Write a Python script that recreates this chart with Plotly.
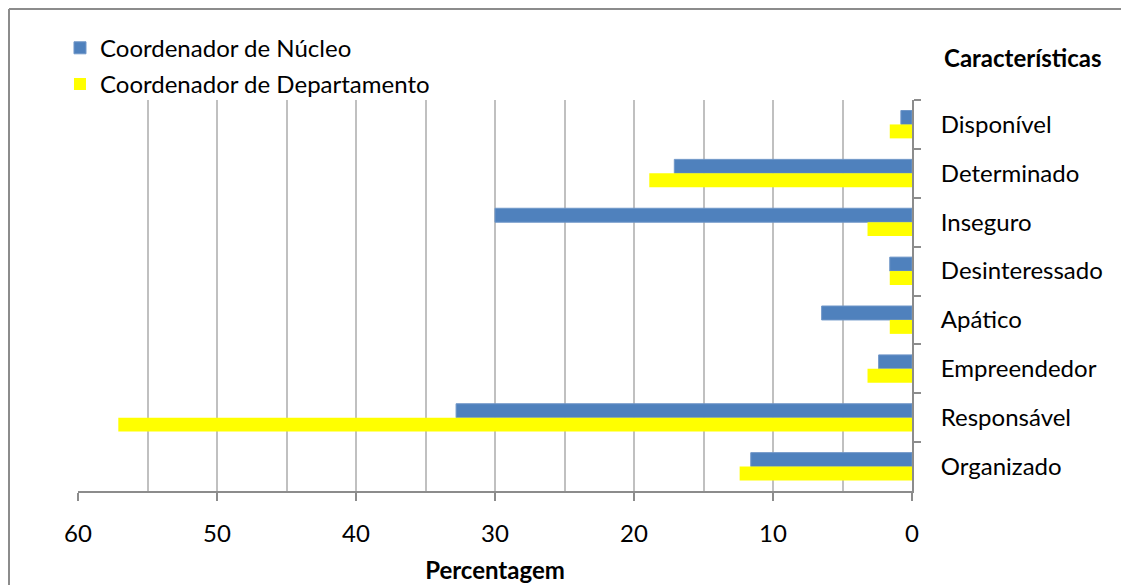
import plotly.graph_objects as go

categories = ["Disponível", "Determinado", "Inseguro", "Desinteressado",
              "Apático", "Empreendedor", "Responsável", "Organizado"]
nucleo = [0.8, 17.1, 30.0, 1.6, 6.5, 2.4, 32.8, 11.6]
departamento = [1.6, 18.9, 3.2, 1.6, 1.6, 3.2, 57.1, 12.4]
series_names = ["Coordenador de Núcleo", "Coordenador de Departamento"]
x_ticks = [0, 10, 20, 30, 40, 50, 60]

FONT = "Lato"
FS = 24
fig = go.Figure()
fig.add_trace(go.Bar(y=categories, x=nucleo, orientation="h", name=series_names[0],
                     marker=dict(color="#4F81BD", line=dict(color="#6f96c8", width=1)),
                     legendgroup="a"))
fig.add_trace(go.Bar(y=categories, x=departamento, orientation="h", name=series_names[1],
                     marker=dict(color="#FFFF00", line=dict(width=0)),
                     legendgroup="b"))

# page has an 8px body margin, so offsets are shifted accordingly
fig.update_layout(
    width=1129, height=585,
    margin=dict(l=70, r=225, t=92, b=102),
    paper_bgcolor="white", plot_bgcolor="white",
    barmode="group", bargap=0.43, bargroupgap=0,
    font=dict(family=FONT, size=FS, color="black"),
    legend=dict(x=-0.0216, y=1.19, xanchor="left", yanchor="top",
                traceorder="grouped", tracegroupgap=2,
                font=dict(size=FS), bgcolor="rgba(0,0,0,0)"),
    xaxis=dict(range=[60, 0], tickvals=x_ticks, showgrid=True, gridcolor="#c0c0c0", gridwidth=2,
               minor=dict(dtick=5, showgrid=True, gridcolor="#c0c0c0", gridwidth=2, ticks=""),
               showline=True, linecolor="#8c8c8c", linewidth=2,
               ticks="outside", ticklen=8, tickcolor="#8c8c8c", tickwidth=2,
               ticklabelstandoff=12, zeroline=False,
               title=dict(text="<b>Percentagem</b>", standoff=16, font=dict(size=FS))),
    yaxis=dict(autorange="reversed", side="right", showline=True, linecolor="#8c8c8c", linewidth=2,
               ticks="outside", ticklen=7, tickcolor="#8c8c8c", tickwidth=2,
               tickson="boundaries", showgrid=False, ticklabelstandoff=22),
)
fig.add_annotation(text="<b>Características</b>", xref="paper", yref="paper",
                   x=(1023 - 78) / 834, y=(491 - 58) / 391, xanchor="center", yanchor="middle",
                   showarrow=False, font=dict(size=FS))
# outer chart border (only top and left edges are visible in the reference)
left_x = (9 - 78) / 834
top_y = (491 - 9) / 391
fig.add_shape(type="line", xref="paper", yref="paper",
              x0=left_x, x1=(1130 - 78) / 834, y0=top_y, y1=top_y,
              line=dict(color="#8c8c8c", width=2), layer="below")
fig.add_shape(type="line", xref="paper", yref="paper",
              x0=left_x, x1=left_x, y0=top_y, y1=(491 - 586) / 391,
              line=dict(color="#8c8c8c", width=2), layer="below")
fig.write_html("out.html")
